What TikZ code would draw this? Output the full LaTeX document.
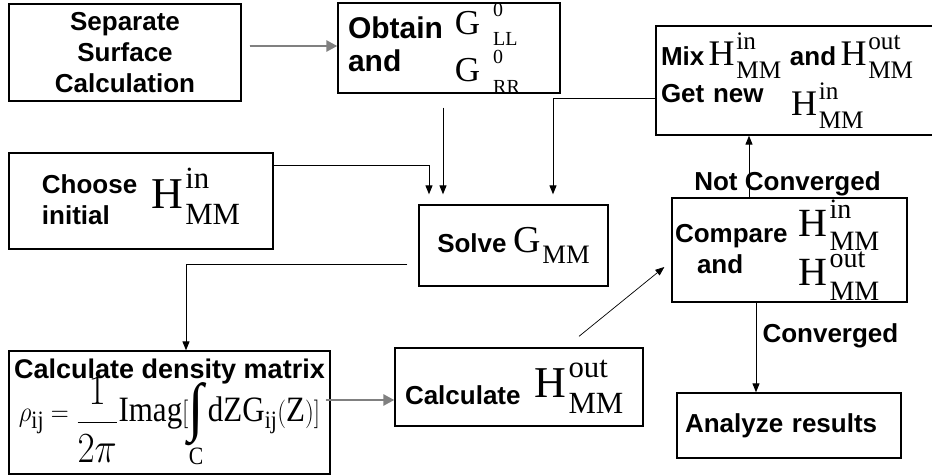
\documentclass[tikz,border=0pt]{standalone}
\usepackage{fontspec}
\usepackage{graphicx}
\setmainfont{Liberation Serif}
\newfontfamily\arial{Liberation Sans}
\usetikzlibrary{arrows.meta}
\definecolor{flowgray}{RGB}{128,128,128}
\newcommand{\HMM}[2][40]{{\rmfamily\mdseries\fontsize{#1}{#1}\selectfont H\kern0.05em\rlap{\raisebox{0.45em}{\scalebox{0.7}{#2}}}\raisebox{-0.36em}{\scalebox{0.7}{MM}}}}
\newcommand{\Gzero}[1]{{\rmfamily\mdseries\fontsize{35}{35}\selectfont G\kern0.37em\rlap{\raisebox{0.51em}{\scalebox{0.57}{0}}}\raisebox{-0.34em}{\scalebox{0.57}{#1}}}}
\newcommand{\GMM}{{\rmfamily\mdseries\fontsize{38}{38}\selectfont G\kern0.03em\raisebox{-0.3em}{\scalebox{0.7}{MM}}}}
\newcommand{\intC}{\mathop{\vcenter{\hbox{\fontsize{56}{56}\selectfont ∫}}}\limits_{\mathrm{C}}}
\newcommand{\densityformula}{{\rmfamily\mdseries\fontsize{31}{31}\selectfont$\rho_{\mathrm{ij}} = \raisebox{-10pt}{\scalebox{1.5}{$\displaystyle\frac{1}{2\pi}$}}\mathrm{Imag}[\intC\mathrm{dZG}_{\mathrm{ij}}(\mathrm{Z})]$}}

\begin{document}
\begin{tikzpicture}[x=1pt, y=-1pt,
  block/.style={rectangle, draw, line width=1.3pt, inner sep=3pt, font=\arial\bfseries\fontsize{26}{31}\selectfont},
  lbl/.style={font=\arial\bfseries\fontsize{26}{31}\selectfont, inner sep=0pt},
  flow/.style={line width=1pt, -{Triangle[length=9pt,width=7pt]}},
  thinflow/.style={line width=0.7pt, -{Triangle[length=9pt,width=7pt]}},
  grayflow/.style={draw=flowgray, fill=flowgray, line width=2.5pt, -{Triangle[length=11pt,width=11pt]}}]
\useasboundingbox (0,0) rectangle (932,476);

% boxes
\node[block, minimum width=232pt, minimum height=97pt, align=center] (sep) at (125,52.5) {Separate\\Surface\\Calculation};
\node[block, text width=216pt, inner ysep=0pt, minimum height=90pt, align=left, font=\arial\bfseries\fontsize{30}{33}\selectfont] (obt) at (449,48) {\hspace*{7pt}\begin{tabular}[c]{@{}l@{}}Obtain\\and\end{tabular}\hspace{12pt}\begin{tabular}[c]{@{}l@{}}\Gzero{LL}\\[6pt]\Gzero{RR}\end{tabular}};
\node[block, text width=270pt, inner xsep=5pt, minimum height=109pt, align=left] (mix) at (796,80.5) {Mix\,\HMM[36]{in} and\,\HMM[36]{out}\\[3pt]\makebox[130pt][l]{Get new}\raisebox{-13pt}{\HMM[36]{in}}};
\node[block, minimum width=264pt, minimum height=96pt] (cho) at (141,201) {\begin{tabular}[c]{@{}l@{}}Choose\\initial\end{tabular}\hspace{14pt}\HMM[44]{in}};
\node[block, minimum width=189pt, minimum height=81pt] (sol) at (513.5,245.5) {Solve \GMM};
\node[block, text width=229pt, minimum height=104pt, inner ysep=0pt, align=left] (cmp) at (789.5,250) {\begin{tabular}[c]{@{}l@{}}Compare\\\hspace*{22pt}and\end{tabular}\hspace{11pt}\raisebox{2pt}{\begin{tabular}[c]{@{}l@{}}\HMM[40]{in}\\[6pt]\HMM[40]{out}\end{tabular}}};
\node[block, minimum width=321pt, minimum height=123pt, align=center, inner sep=1pt, font=\arial\bfseries\fontsize{27}{31}\selectfont] (den) at (169.5,412.5) {Calculate density matrix\\\raisebox{0pt}[36pt][44pt]{\scalebox{1}[1.15]{\densityformula}}};
\node[block, text width=242pt, minimum height=78pt, align=left] (calc) at (519,387) {\hspace*{7pt}Calculate\hspace{14pt}\raisebox{7pt}{\HMM[44]{out}}};
\node[block, text width=208pt, inner xsep=8pt, minimum height=65pt, align=left] (ana) at (789,425.5) {Analyze results};

% connectors
\coordinate (sepout) at ([xshift=8pt,yshift=6.5pt]sep.east);
\draw[grayflow] (sepout) -- (sepout -| obt.west);
\coordinate (obtout) at ([xshift=-6pt,yshift=-14pt]obt.south);
\coordinate (solin) at ([yshift=10pt]sol.north);
\draw[flow] (obtout) -- (obtout |- solin);
\draw[flow] ([yshift=35pt]cho.east) -| ([xshift=-84.5pt]solin);
\draw[flow] ([yshift=-18.5pt]mix.west) -| ([xshift=39.5pt]solin);
\draw[flow] ([xshift=-11pt,yshift=-18.5pt]sol.west) -| ([xshift=16.5pt]den.north);
\coordinate (denout) at ([xshift=-5pt,yshift=12.5pt]den.east);
\draw[grayflow] (denout) -- (denout -| calc.west);
\draw[thinflow] ([xshift=60pt,yshift=11pt]calc.north) -- ([xshift=-7pt,yshift=-17pt]cmp.west);
\coordinate (cmpup) at ([xshift=-40.5pt]cmp.north);
\draw[flow] (cmpup) -- (cmpup |- mix.south) node[lbl, pos=0.22, xshift=38.5pt] {Not Converged};
\coordinate (cmpdown) at ([xshift=-33.5pt]cmp.south);
\draw[flow] (cmpdown) -- (cmpdown |- ana.north) node[lbl, pos=0.37, right=6pt] {Converged};
\end{tikzpicture}
\end{document}
